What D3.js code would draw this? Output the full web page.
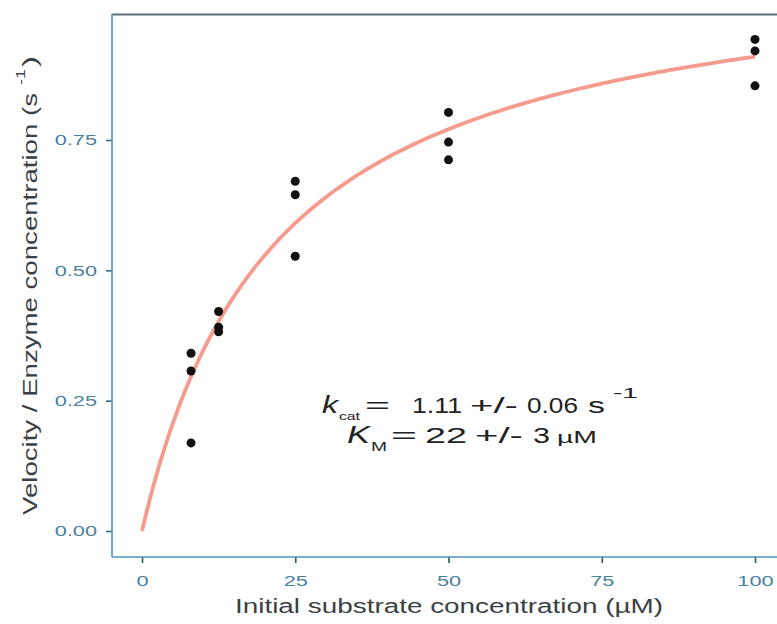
<!DOCTYPE html>
<html><head><meta charset="utf-8">
<script src="https://cdn.jsdelivr.net/npm/d3@7"></script>
<style>body{margin:0;background:#fff}svg{display:block}</style>
</head><body>
<svg id="c" width="777" height="624"></svg>
<script>
// data
const substrate = [8,8,8, 12.5,12.5,12.5, 25,25,25, 50,50,50, 100,100,100];
const rate = [0.341,0.307,0.169, 0.421,0.391,0.382, 0.671,0.645,0.527, 0.803,0.746,0.712, 0.943,0.921,0.854];
const kcat = 1.11, kcatErr = 0.06, Km = 22, KmErr = 3;
const xTicks = [0,25,50,75,100];
const yTicks = [0,0.25,0.5,0.75];
const curveS = d3.range(0, 100.5, 0.5);
const xTitle = "Initial substrate concentration (\u00b5M)";
const yTitle = "Velocity / Enzyme concentration (s";

(function(){
const svg = d3.select("#c");
const ff = "Liberation Sans, Arial, sans-serif";
const pL = 112, pT = 14, pR = 777, pB = 557;
const x = d3.scaleLinear().domain([0,100]).range([142,755]);
const y = d3.scaleLinear().domain([0,1]).range([531,531-521.3]);

const axisCol = "#4a97b8", tickTxt = "#4a7f9e";

function seg(g, str, u0, u1, base, size, opts={}) {
  const t = g.append("text").attr("x",u0).attr("y",base)
    .attr("font-family",ff).attr("font-size",size).attr("fill",opts.fill||"#222")
    .attr("textLength",u1-u0).attr("lengthAdjust",opts.adj||"spacingAndGlyphs").text(str);
  if (opts.italic) t.attr("font-style","italic");
  return t;
}

// top border
svg.append("line").attr("x1",pL).attr("x2",pR).attr("y1",pT+0.5).attr("y2",pT+0.5)
  .attr("stroke","#5f7178").attr("stroke-width",1.8);

// curve
const line = d3.line().x(s=>x(s)).y(s=>y(kcat*s/(Km+s)));
svg.append("path").datum(curveS).attr("d",line).attr("fill","none")
  .attr("stroke","#f28a7a").attr("stroke-opacity",0.85).attr("stroke-width",3.8);

// points
svg.append("g").selectAll("circle").data(substrate).join("circle")
  .attr("cx",(d)=>x(d)).attr("cy",(d,i)=>y(rate[i])).attr("r",4.5).attr("fill","#111");

// axes
const xAxis = svg.append("g").attr("transform",`translate(0,${pB})`)
  .call(d3.axisBottom(x).tickValues(xTicks).tickFormat(d3.format("d")).tickSize(6).tickSizeOuter(0));
xAxis.select(".domain").remove();
svg.append("line").attr("x1",pL).attr("x2",pR).attr("y1",pB).attr("y2",pB)
  .attr("stroke",axisCol).attr("stroke-width",1.6);
xAxis.selectAll(".tick line").attr("stroke","#2f5560").attr("stroke-width",1.6);
xAxis.selectAll(".tick text").attr("fill",tickTxt).attr("font-family",ff)
  .attr("font-size",15).attr("y",29).attr("dy",0);

const yAxis = svg.append("g").attr("transform",`translate(${pL},0)`)
  .call(d3.axisLeft(y).tickValues(yTicks).tickFormat(d3.format(".2f")).tickSize(6).tickSizeOuter(0));
yAxis.select(".domain").remove();
svg.append("line").attr("x1",pL).attr("x2",pL).attr("y1",pT).attr("y2",pB)
  .attr("stroke",axisCol).attr("stroke-width",1.6);
yAxis.selectAll(".tick line").attr("stroke","#3a6f85").attr("stroke-width",1.6);
yAxis.selectAll(".tick text").attr("fill",tickTxt).attr("font-family",ff)
  .attr("font-size",15).attr("x",-15);
svg.selectAll(".tick text").each(function(){
  const w = this.getComputedTextLength();
  d3.select(this).attr("textLength",w*1.45).attr("lengthAdjust","spacingAndGlyphs");
});

// axis titles
seg(svg, xTitle, 235, 663, 613, 20, {fill:"#3a3f44"});
const yg = svg.append("g").attr("transform","rotate(-90)");
seg(yg, yTitle, -515, -93, 37, 20.5, {fill:"#3a3f44"});
seg(yg, "-1", -85, -69, 25, 13, {fill:"#3a3f44"});
seg(yg, ")", -67, -56, 37, 20.5, {fill:"#3a3f44"});

// annotation
const b1 = 413, b2 = 443;
seg(svg, "k", 322, 338, b1, 23, {italic:true});
seg(svg, "cat", 339, 360, 420, 11);
seg(svg, "=", 365, 390, b1, 22);
seg(svg, kcat.toFixed(2), 412, 462, b1, 22);
seg(svg, "+/-", 470, 518, b1, 22);
seg(svg, kcatErr.toFixed(2), 527, 578, b1, 22);
seg(svg, "s", 588, 605, b1, 22);
seg(svg, "-1", 613, 638, 398, 15);
seg(svg, "K", 347, 370, b2, 23, {italic:true});
seg(svg, "M", 371, 387, 451, 12);
seg(svg, "=", 391, 417, b2, 22);
seg(svg, String(Km), 425, 467, b2, 22);
seg(svg, "+/-", 475, 523, b2, 22);
seg(svg, String(KmErr), 533, 550, b2, 22);
seg(svg, "\u00b5M", 557, 597, b2, 16);
})();
</script>
</body></html>
